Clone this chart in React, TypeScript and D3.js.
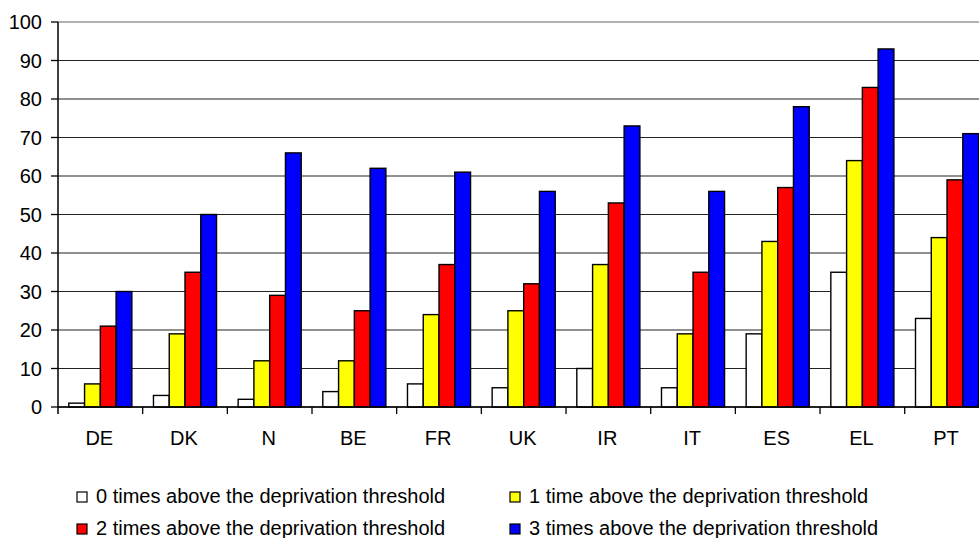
import React from "react";
import * as d3 from "d3";

const categories = ["DE", "DK", "N", "BE", "FR", "UK", "IR", "IT", "ES", "EL", "PT"];
const seriesNames = [
  "0 times above the deprivation threshold",
  "1 time above the deprivation threshold",
  "2 times above the deprivation threshold",
  "3 times above the deprivation threshold",
];
const seriesColors = ["#FFFFFF", "#FFFF00", "#FF0000", "#0000FF"];
const zeroTimes = [1, 3, 2, 4, 6, 5, 10, 5, 19, 35, 23];
const oneTime = [6, 19, 12, 12, 24, 25, 37, 19, 43, 64, 44];
const twoTimes = [21, 35, 29, 25, 37, 32, 53, 35, 57, 83, 59];
const threeTimes = [30, 50, 66, 62, 61, 56, 73, 56, 78, 93, 71];
const yTicks = [0, 10, 20, 30, 40, 50, 60, 70, 80, 90, 100];

const W = 979;
const H = 538;
const left = 58;
const step = 84.67;
const right = left + step * categories.length;
const top = 22;
const bottom = 407;
const FONT = "'Liberation Sans', Arial, sans-serif";
const FS = 20;

export default function App() {
  const series = [zeroTimes, oneTime, twoTimes, threeTimes];
  const x = d3.scaleBand<string>().domain(categories).range([left, right]).padding(0);
  const gap = 21.6;
  const xs = d3
    .scaleBand<number>()
    .domain([0, 1, 2, 3])
    .range([gap / 2, x.bandwidth() - gap / 2])
    .padding(0);
  const y = d3.scaleLinear().domain([0, 100]).range([bottom, top]);

  const legendItems = [
    { i: 0, x: 77, y: 492 },
    { i: 1, x: 510, y: 492 },
    { i: 2, x: 77, y: 524 },
    { i: 3, x: 510, y: 524 },
  ];

  return (
    <svg
      width={W}
      height={H}
      style={{ position: "absolute", left: 0, top: 0, background: "#fff" }}
      fontFamily={FONT}
    >
      {yTicks.map((t) => (
        <line
          key={"g" + t}
          x1={left}
          x2={right}
          y1={y(t)}
          y2={y(t)}
          stroke={t === 100 ? "#999" : "#222"}
          strokeWidth={t === 100 ? 1.3 : 1.2}
        />
      ))}
      {categories.map((c, ci) => (
        <g key={c} transform={`translate(${x(c)},0)`}>
          {series.map((s, si) => (
            <rect
              key={si}
              x={xs(si)}
              y={y(s[ci])}
              width={xs.bandwidth()}
              height={y(0) - y(s[ci])}
              fill={seriesColors[si]}
              stroke="#000"
              strokeWidth={1.4}
            />
          ))}
        </g>
      ))}
      <line x1={left} x2={left} y1={top} y2={bottom + 7} stroke="#000" strokeWidth={1.5} />
      {yTicks.map((t) => (
        <g key={"t" + t}>
          <line x1={left - 7} x2={left} y1={y(t)} y2={y(t)} stroke="#000" strokeWidth={1.3} />
          <text x={42} y={y(t)} dy="0.36em" textAnchor="end" fontSize={FS} fill="#000">
            {t}
          </text>
        </g>
      ))}
      <line x1={left} x2={right} y1={bottom} y2={bottom} stroke="#000" strokeWidth={1.3} />
      {categories.map((c) => (
        <g key={"x" + c}>
          <line
            x1={(x(c) as number) + step}
            x2={(x(c) as number) + step}
            y1={bottom}
            y2={bottom + 7}
            stroke="#000"
            strokeWidth={1.3}
          />
          <text
            x={(x(c) as number) + x.bandwidth() / 2 - 1}
            y={445}
            textAnchor="middle"
            fontSize={FS}
            fill="#000"
          >
            {c}
          </text>
        </g>
      ))}
      {legendItems.map((l) => (
        <g key={"l" + l.i}>
          <rect
            x={l.x}
            y={l.y}
            width={10}
            height={10}
            fill={seriesColors[l.i]}
            stroke="#000"
            strokeWidth={1.2}
          />
          <text x={l.x + 19} y={l.y + 11} fontSize={FS} fill="#000">
            {seriesNames[l.i]}
          </text>
        </g>
      ))}
    </svg>
  );
}
